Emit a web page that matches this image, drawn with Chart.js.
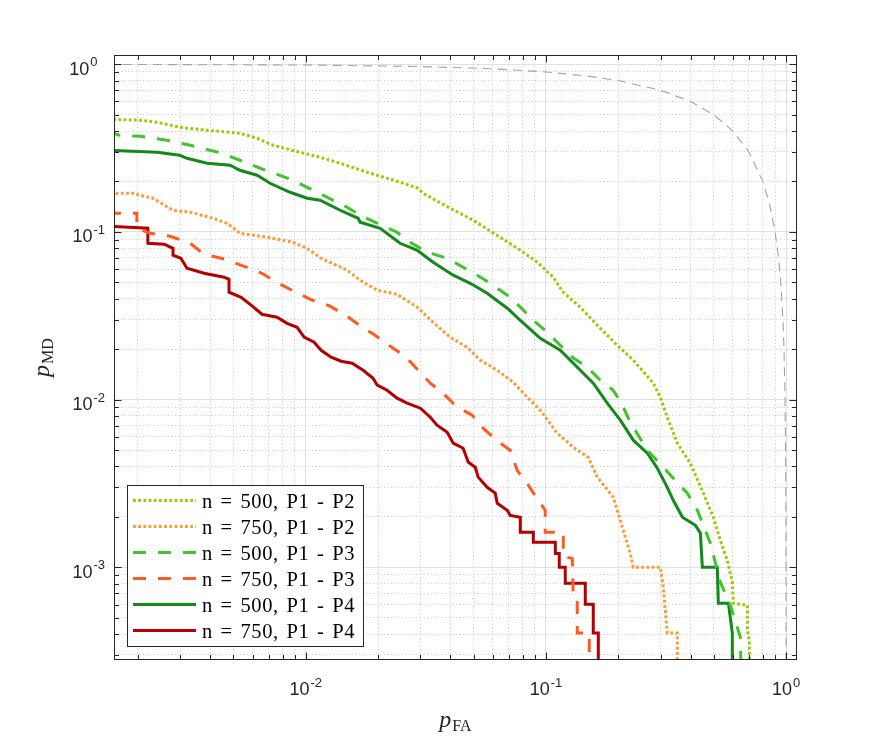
<!DOCTYPE html>
<html>
<head>
<meta charset="utf-8">
<script src="https://cdn.jsdelivr.net/npm/chart.js@4/dist/chart.umd.min.js"></script>
<style>
html, body { margin: 0; padding: 0; background: #fff; }
canvas { display: block; }
</style>
</head>
<body>
<canvas id="roc" width="880" height="742"></canvas>
<script>
// values: pFA (x) and pMD (y) per curve
const n500p2FA = [0.0015, 0.00204, 0.0024, 0.00299, 0.00388, 0.00532, 0.00627, 0.00731, 0.00947, 0.01147, 0.0139, 0.018, 0.0247, 0.0294, 0.0308, 0.0399, 0.0498, 0.0645, 0.0782, 0.092, 0.1073, 0.118, 0.139, 0.1636, 0.198, 0.231, 0.28, 0.2995, 0.32, 0.3525, 0.399, 0.452, 0.498, 0.532, 0.569, 0.597, 0.603, 0.69, 0.69, 0.703, 0.703];
const n500p2MD = [0.47, 0.464, 0.451, 0.421, 0.404, 0.388, 0.362, 0.329, 0.2987, 0.279, 0.257, 0.227, 0.198, 0.182, 0.17, 0.1385, 0.1174, 0.093, 0.0778, 0.066, 0.0537, 0.0437, 0.0356, 0.0278, 0.0211, 0.0172, 0.01253, 0.01033, 0.00785, 0.0055, 0.00418, 0.00277, 0.00199, 0.00145, 0.0011, 0.000815, 0.000611, 0.000594, 0.000422, 0.000367, 0.0001];

const n750p2FA = [0.0015, 0.00162, 0.00191, 0.00204, 0.00231, 0.0028, 0.0033, 0.00411, 0.0047, 0.00532, 0.0069, 0.00885, 0.01013, 0.01158, 0.01486, 0.01684, 0.01982, 0.024, 0.0291, 0.0339, 0.0399, 0.047, 0.0533, 0.0627, 0.0731, 0.0836, 0.0947, 0.1115, 0.13, 0.15, 0.1636, 0.1907, 0.21, 0.2245, 0.231, 0.2995, 0.308, 0.32, 0.3525, 0.3525];
const n750p2MD = [0.1873, 0.17, 0.17, 0.1655, 0.1589, 0.1347, 0.1311, 0.1207, 0.1127, 0.0982, 0.093, 0.0868, 0.0799, 0.0697, 0.0591, 0.0515, 0.0449, 0.0425, 0.0356, 0.0289, 0.0236, 0.0205, 0.0172, 0.01497, 0.0127, 0.01033, 0.00865, 0.0063, 0.0052, 0.00453, 0.00345, 0.00262, 0.00166, 0.00121, 0.001, 0.001, 0.00076, 0.000405, 0.000405, 0.0001];

const n500p3FA = [0.0015, 0.00168, 0.00204, 0.00264, 0.0033, 0.00448, 0.00532, 0.00664, 0.00885, 0.01227, 0.01486, 0.01684, 0.01982, 0.024, 0.0272, 0.032, 0.0388, 0.0517, 0.0603, 0.071, 0.0782, 0.0886, 0.1013, 0.1287, 0.1486, 0.1684, 0.1907, 0.208, 0.2245, 0.2643, 0.308, 0.339, 0.388, 0.427, 0.484, 0.532, 0.586, 0.645, 0.657];
const n500p3MD = [0.3985, 0.377, 0.372, 0.352, 0.329, 0.2946, 0.2677, 0.2365, 0.2034, 0.161, 0.1404, 0.1258, 0.1127, 0.0996, 0.0868, 0.0757, 0.0697, 0.0552, 0.0481, 0.0408, 0.0356, 0.0297, 0.0252, 0.0179, 0.0156, 0.01305, 0.01138, 0.00926, 0.00733, 0.00499, 0.00395, 0.0034, 0.00277, 0.00219, 0.00139, 0.000815, 0.000594, 0.000383, 0.0001];

const n750p3FA = [0.0015, 0.00198, 0.00198, 0.00225, 0.00272, 0.0033, 0.00377, 0.00461, 0.00553, 0.00657, 0.00767, 0.00894, 0.01062, 0.01263, 0.01486, 0.01717, 0.01944, 0.02245, 0.0259, 0.0294, 0.033, 0.0373, 0.0423, 0.0493, 0.0553, 0.0621, 0.071, 0.0759, 0.0844, 0.0929, 0.0993, 0.0993, 0.1181, 0.1181, 0.1287, 0.13, 0.135, 0.135, 0.1515, 0.1515];
const n750p3MD = [0.1293, 0.1293, 0.1052, 0.0982, 0.0943, 0.0856, 0.0736, 0.0688, 0.0624, 0.0567, 0.0494, 0.0443, 0.0392, 0.0361, 0.0314, 0.027, 0.0242, 0.0208, 0.01815, 0.01497, 0.01253, 0.01092, 0.00913, 0.00807, 0.00666, 0.00573, 0.00499, 0.00379, 0.00309, 0.00251, 0.00219, 0.00162, 0.00162, 0.00116, 0.00113, 0.000654, 0.000637, 0.000405, 0.000405, 0.0001];

const n500p4FA = [0.0015, 0.0024, 0.00299, 0.0032, 0.00388, 0.00484, 0.00532, 0.00627, 0.0071, 0.0086, 0.01013, 0.01147, 0.0139, 0.01652, 0.01684, 0.0204, 0.0247, 0.0291, 0.0339, 0.0411, 0.0484, 0.0569, 0.069, 0.0782, 0.0947, 0.1147, 0.13, 0.1574, 0.18, 0.204, 0.231, 0.2643, 0.291, 0.32, 0.339, 0.37, 0.419, 0.4395, 0.448, 0.517, 0.522, 0.575, 0.597, 0.597];
const n500p4MD = [0.307, 0.2987, 0.2867, 0.275, 0.257, 0.2499, 0.2332, 0.2179, 0.1952, 0.1725, 0.1589, 0.1545, 0.1347, 0.1207, 0.1142, 0.1052, 0.0856, 0.0778, 0.066, 0.0552, 0.0494, 0.0431, 0.0351, 0.0297, 0.0232, 0.0197, 0.01648, 0.01253, 0.00952, 0.00754, 0.00573, 0.00479, 0.0039, 0.003, 0.00251, 0.00199, 0.00178, 0.0016, 0.001, 0.001, 0.000611, 0.000611, 0.000405, 0.0001];

const n750p4FA = [0.0015, 0.0022, 0.0022, 0.00257, 0.0028, 0.0028, 0.00302, 0.0032, 0.00377, 0.00457, 0.00479, 0.00479, 0.00538, 0.00592, 0.00657, 0.00759, 0.00836, 0.0092, 0.00984, 0.01083, 0.01158, 0.01275, 0.01403, 0.01559, 0.01733, 0.01907, 0.01982, 0.0218, 0.024, 0.0264, 0.03, 0.033, 0.0352, 0.0388, 0.0411, 0.0452, 0.0475, 0.0508, 0.0522, 0.0569, 0.0615, 0.0627, 0.069, 0.071, 0.0782, 0.0782, 0.0886, 0.0886, 0.1094, 0.1094, 0.1136, 0.1136, 0.1203, 0.1203, 0.1458, 0.1458, 0.1574, 0.1574, 0.1652, 0.1652];
const n750p4MD = [0.1081, 0.1052, 0.0856, 0.0845, 0.0799, 0.0726, 0.0697, 0.0607, 0.0567, 0.0537, 0.0522, 0.0437, 0.0408, 0.0366, 0.0323, 0.031, 0.0285, 0.027, 0.0236, 0.022, 0.0197, 0.0179, 0.01694, 0.01648, 0.01497, 0.0134, 0.01219, 0.01138, 0.0102, 0.00952, 0.00889, 0.00785, 0.00704, 0.00639, 0.0055, 0.00513, 0.00423, 0.00395, 0.00345, 0.003, 0.00277, 0.00241, 0.00219, 0.00204, 0.00199, 0.00162, 0.00162, 0.00141, 0.00141, 0.00121, 0.00121, 0.001, 0.001, 0.000804, 0.000804, 0.000603, 0.000603, 0.000405, 0.000405, 0.0001];

// chance line (grey dashed)
const chanceFA = [0.0015, 0.01, 0.03, 0.06, 0.1, 0.15, 0.2, 0.3, 0.4, 0.5, 0.6, 0.7, 0.8, 0.85, 0.9, 0.93, 0.95, 0.97, 0.98, 0.99, 0.995, 0.998, 0.9995, 0.9999];
const chanceMD = [0.9985, 0.99, 0.97, 0.94, 0.9, 0.85, 0.8, 0.7, 0.6, 0.5, 0.4, 0.3, 0.2, 0.15, 0.1, 0.07, 0.05, 0.03, 0.02, 0.01, 0.005, 0.002, 0.0005, 0.0001];

const xLim = [0.00159, 1.11];
const yLim = [0.00028, 1.136];
const xDecades = [0.001, 0.01, 0.1, 1];
const yDecades = [0.0001, 0.001, 0.01, 0.1, 1];
const minorMult = [1, 2, 3, 4, 5, 6, 7, 8, 9];
const xLabelVals = [0.01, 0.1, 1];
const xLabelExps = ['-2', '-1', '0'];
const yLabelVals = [0.001, 0.01, 0.1, 1];
const yLabelExps = ['-3', '-2', '-1', '0'];

const axisInk = '#262626';
const sansFont = '"Liberation Sans", Arial, sans-serif';
const serifFont = '"Liberation Serif", "Times New Roman", serif';

function pts(xs, ys) {
	const n = Math.min(xs.length, ys.length);
	const out = [];
	for (let i = 0; i < n; i++) out.push({ x: xs[i], y: ys[i] });
	return out;
}

function logTicks(decs, lim) {
	const out = [];
	decs.forEach(d => minorMult.forEach(m => {
		const v = +(d * m).toPrecision(6);
		if (v >= lim[0] && v <= lim[1]) out.push({ value: v, major: m === 1 });
	}));
	return out;
}

const dotted = [2.8, 2.4];
const dashed = [13, 12];

const datasets = [
	{ label: 'n = 500, P1 - P2', data: pts(n500p2FA, n500p2MD), borderColor: '#99cc00', borderWidth: 3, borderDash: dotted, inLegend: true },
	{ label: 'n = 750, P1 - P2', data: pts(n750p2FA, n750p2MD), borderColor: '#ff9933', borderWidth: 3, borderDash: dotted, inLegend: true },
	{ label: 'n = 500, P1 - P3', data: pts(n500p3FA, n500p3MD), borderColor: '#3fc42a', borderWidth: 3, borderDash: dashed, inLegend: true },
	{ label: 'n = 750, P1 - P3', data: pts(n750p3FA, n750p3MD), borderColor: '#ff5a1f', borderWidth: 3, borderDash: dashed, inLegend: true },
	{ label: 'n = 500, P1 - P4', data: pts(n500p4FA, n500p4MD), borderColor: '#14881a', borderWidth: 3, borderDash: [], inLegend: true },
	{ label: 'n = 750, P1 - P4', data: pts(n750p4FA, n750p4MD), borderColor: '#b40000', borderWidth: 3, borderDash: [], inLegend: true },
	{ label: 'chance', data: pts(chanceFA, chanceMD), borderColor: '#a3a3a3', borderWidth: 1.1, borderDash: [9, 6], inLegend: false }
];
datasets.forEach(d => { d.fill = false; d.pointRadius = 0; d.clip = 0; d.tension = 0; });

/* ---------- axes decoration (MATLAB style box, inward ticks, 10^k labels) ---------- */
function drawPower(ctx, exp, x, base, align) {
	ctx.font = '18px ' + sansFont;
	const wb = ctx.measureText('10').width;
	ctx.font = '13px ' + sansFont;
	const we = ctx.measureText(exp).width;
	const total = wb + 1 + we;
	const left = align === 'center' ? x - total / 2 : x - total;
	ctx.font = '18px ' + sansFont;
	ctx.fillText('10', left, base);
	ctx.font = '13px ' + sansFont;
	ctx.fillText(exp, left + wb + 1, base - 8.5);
}

function drawSubTitle(ctx, main, sub, cx, base) {
	ctx.font = 'italic 24px ' + serifFont;
	const wm = ctx.measureText(main).width;
	ctx.font = '16px ' + serifFont;
	const ws = ctx.measureText(sub).width;
	const left = cx - (wm + 1 + ws) / 2;
	ctx.font = 'italic 24px ' + serifFont;
	ctx.fillText(main, left, base);
	ctx.font = '16px ' + serifFont;
	ctx.fillText(sub, left + wm + 1, base + 4);
}

function drawLegend(chart) {
	const ctx = chart.ctx;
	const sets = chart.data.datasets.filter(d => d.inLegend);
	ctx.save();
	ctx.fillStyle = '#fff';
	ctx.fillRect(127.5, 485.5, 236, 161);
	ctx.strokeStyle = axisInk;
	ctx.lineWidth = 1;
	ctx.strokeRect(127.5, 485.5, 236, 161);
	sets.forEach((d, i) => {
		const yy = 500.5 + i * 26;
		ctx.beginPath();
		ctx.setLineDash(d.borderDash);
		ctx.strokeStyle = d.borderColor;
		ctx.lineWidth = d.borderWidth;
		ctx.moveTo(133, yy);
		ctx.lineTo(196, yy);
		ctx.stroke();
		ctx.setLineDash([]);
		ctx.fillStyle = '#000';
		ctx.font = '20.5px ' + serifFont;
		ctx.letterSpacing = '0.6px';
		ctx.wordSpacing = '2px';
		ctx.textBaseline = 'alphabetic';
		ctx.fillText(d.label, 202, yy + 7.5);
	});
	ctx.restore();
}

const matlabAxes = {
	id: 'matlabAxes',
	afterDraw(chart) {
		const { ctx, chartArea: a, scales } = chart;
		const xs = scales.x, ys = scales.y;
		const L = Math.round(a.left) + 0.5, R = Math.round(a.right) - 0.5;
		const T = Math.round(a.top) + 0.5, B = Math.round(a.bottom) - 0.5;
		ctx.save();
		ctx.strokeStyle = axisInk;
		ctx.lineWidth = 1;
		ctx.beginPath();
		xs.ticks.forEach(t => {
			const p = Math.round(xs.getPixelForValue(t.value)) + 0.5;
			const len = t.major ? 7 : 4.5;
			ctx.moveTo(p, B); ctx.lineTo(p, B - len);
			ctx.moveTo(p, T); ctx.lineTo(p, T + len);
		});
		ys.ticks.forEach(t => {
			const p = Math.round(ys.getPixelForValue(t.value)) + 0.5;
			const len = t.major ? 7 : 4.5;
			ctx.moveTo(L, p); ctx.lineTo(L + len, p);
			ctx.moveTo(R, p); ctx.lineTo(R - len, p);
		});
		ctx.stroke();
		ctx.strokeRect(L, T, R - L, B - T);

		ctx.fillStyle = axisInk;
		ctx.textBaseline = 'alphabetic';
		ctx.textAlign = 'left';
		xLabelVals.forEach((v, i) => drawPower(ctx, xLabelExps[i], xs.getPixelForValue(v), a.bottom + 35, 'center'));
		yLabelVals.forEach((v, i) => {
			const right = yLabelExps[i] === '0' ? 97.5 : 105;
			drawPower(ctx, yLabelExps[i], right, ys.getPixelForValue(v) + 10.5, 'right');
		});

		drawSubTitle(ctx, 'p', 'FA', (a.left + a.right) / 2, a.bottom + 67);
		ctx.translate(49, (a.top + a.bottom) / 2);
		ctx.rotate(-Math.PI / 2);
		drawSubTitle(ctx, 'p', 'MD', 0, 0);
		ctx.restore();

		drawLegend(chart);
	}
};

const gridOpts = {
	drawTicks: false,
	lineWidth: 1,
	color: c => (c.tick && c.tick.major) ? '#e0e0e0' : '#c6c6c6'
};
const borderOpts = {
	display: false,
	dash: c => (c.tick && !c.tick.major) ? [1, 2.6] : []
};

window.addEventListener('DOMContentLoaded', function() {
	new Chart(document.getElementById('roc'), {
		type: 'line',
		data: { datasets: datasets },
		options: {
			responsive: false,
			animation: false,
			layout: { padding: { left: 114, top: 55, right: 83, bottom: 82 } },
			plugins: { legend: { display: false }, tooltip: { enabled: false } },
			scales: {
				x: {
					type: 'logarithmic', min: xLim[0], max: xLim[1],
					afterBuildTicks: s => { s.ticks = logTicks(xDecades, xLim); },
					ticks: { display: false, autoSkip: false },
					grid: gridOpts, border: borderOpts
				},
				y: {
					type: 'logarithmic', min: yLim[0], max: yLim[1],
					afterBuildTicks: s => { s.ticks = logTicks(yDecades, yLim); },
					ticks: { display: false, autoSkip: false },
					grid: gridOpts, border: borderOpts
				}
			}
		},
		plugins: [matlabAxes]
	});
});
</script>
</body>
</html>
